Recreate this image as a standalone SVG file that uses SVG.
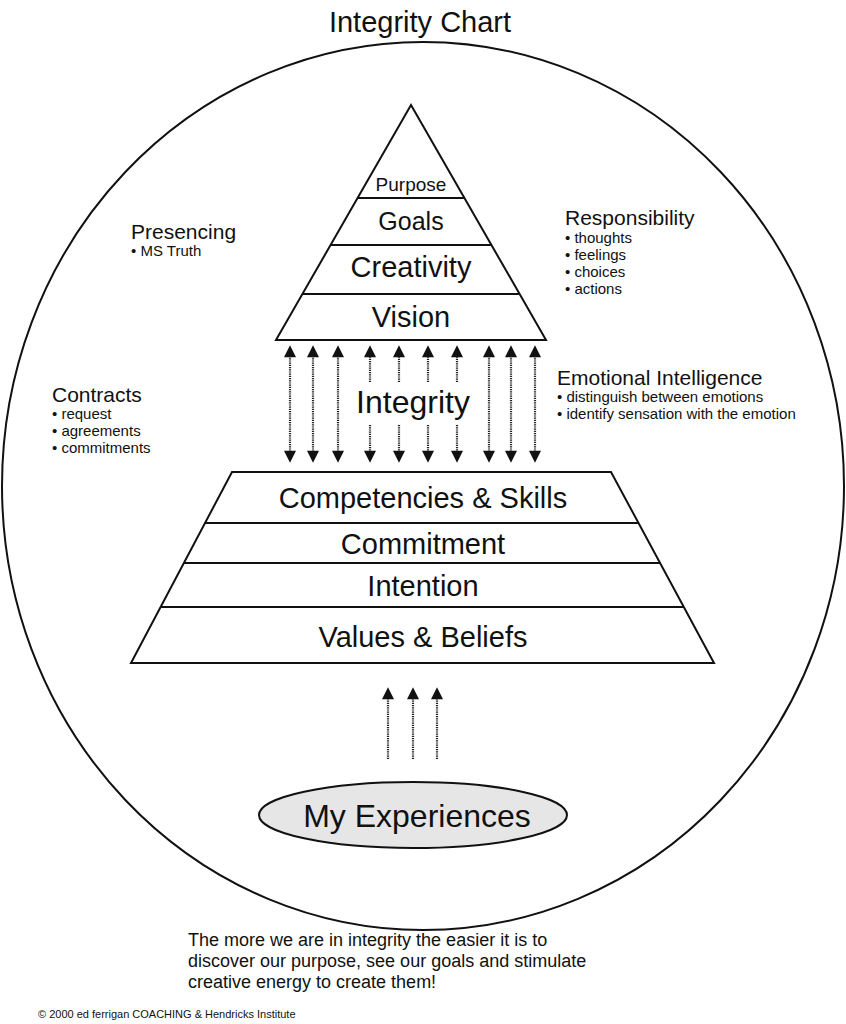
<svg xmlns="http://www.w3.org/2000/svg" width="846" height="1024" viewBox="0 0 846 1024">
<style>
text{font-family:"Liberation Sans",Arial,sans-serif;fill:#111}
.sh{fill:none;stroke:#111;stroke-width:2}
.d{stroke:#222;stroke-width:2.2;stroke-dasharray:1.2,1;fill:none}
.lab{font-size:29px;text-anchor:middle}
.side{font-size:21px}
.bul{font-size:15px}
</style>
<defs>
<marker id="ah" viewBox="0 0 10 10" refX="1" refY="5" markerWidth="14" markerHeight="12" markerUnits="userSpaceOnUse" orient="auto-start-reverse"><path d="M0,0L10,5L0,10Z" fill="#111"/></marker>
</defs>
<rect width="846" height="1024" fill="#fff"/>
<text x="420" y="32" font-size="29" text-anchor="middle">Integrity Chart</text>
<ellipse cx="423" cy="486" rx="421" ry="444" class="sh"/>
<g id="top-pyramid">
<path class="sh" d="M411,105L546,340L276,340Z M358,198H464 M331,245H491 M303,294H519"/>
<text x="411" y="191" font-size="19" text-anchor="middle">Purpose</text>
<text x="411" y="230" font-size="25" text-anchor="middle">Goals</text>
<text x="411" y="277" class="lab" font-size="27">Creativity</text>
<text x="411" y="327" class="lab">Vision</text>
</g>
<g id="bottom-pyramid">
<path class="sh" d="M232,472H611L714,663H131Z M205,523H638 M184,563H660 M161,607H684"/>
<text x="423" y="508" class="lab">Competencies &amp; Skills</text>
<text x="423" y="554" class="lab">Commitment</text>
<text x="423" y="596" class="lab">Intention</text>
<text x="423" y="647" class="lab">Values &amp; Beliefs</text>
</g>
<g id="integrity"><text x="413" y="413" font-size="32" text-anchor="middle">Integrity</text></g>
<g id="experiences">
<ellipse cx="413" cy="815" rx="154" ry="33" fill="#e6e6e6" stroke="#111" stroke-width="2"/>
<text x="417" y="827" font-size="32" text-anchor="middle">My Experiences</text>
</g>
<g id="connectors">
<g class="d" marker-start="url(#ah)" marker-end="url(#ah)">
<path d="M290,356V452"/><path d="M313,356V452"/><path d="M338,356V452"/>
<path d="M489,356V452"/><path d="M511,356V452"/><path d="M535,356V452"/>
</g>
<g class="d" marker-end="url(#ah)">
<path d="M370,382V356"/><path d="M399,382V356"/><path d="M428,382V356"/><path d="M457,382V356"/>
<path d="M370,425V452"/><path d="M399,425V452"/><path d="M428,425V452"/><path d="M457,425V452"/>
<path d="M388,759V698"/><path d="M413,759V698"/><path d="M437,759V698"/>
</g>
</g>
<g id="presencing"><text x="131" y="239" class="side">Presencing</text><text x="131" y="256" class="bul">• MS Truth</text></g>
<g id="responsibility"><text x="565" y="225" class="side">Responsibility</text>
<text x="565" y="243" class="bul">• thoughts</text><text x="565" y="260" class="bul">• feelings</text><text x="565" y="277" class="bul">• choices</text><text x="565" y="294" class="bul">• actions</text></g>
<g id="contracts"><text x="52" y="402" class="side">Contracts</text>
<text x="52" y="419" class="bul">• request</text><text x="52" y="436" class="bul">• agreements</text><text x="52" y="453" class="bul">• commitments</text></g>
<g id="emotional"><text x="557" y="385" class="side">Emotional Intelligence</text>
<text x="557" y="402" class="bul">• distinguish between emotions</text><text x="557" y="419" class="bul">• identify sensation with the emotion</text></g>
<text x="188" y="946" font-size="18">The more we are in integrity the easier it is to</text>
<text x="188" y="967" font-size="18">discover our purpose, see our goals and stimulate</text>
<text x="188" y="988" font-size="18">creative energy to create them!</text>
<text x="38" y="1018" font-size="11">© 2000 ed ferrigan COACHING &amp; Hendricks Institute</text>
</svg>
